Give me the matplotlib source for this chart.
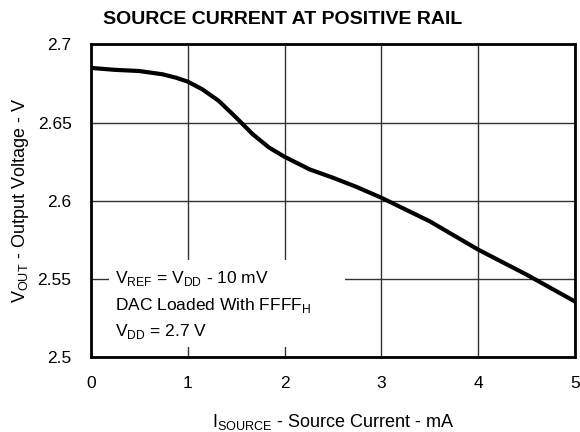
import matplotlib
matplotlib.use("Agg")
import matplotlib.pyplot as plt
from matplotlib.patches import Rectangle

plt.rcParams['font.family'] = ['Liberation Sans', 'DejaVu Sans']

# output voltage vs source current
i_source = [0.0, 0.24, 0.5, 0.74, 0.88, 1.0, 1.15, 1.32, 1.5, 1.67, 1.84,
            2.0, 2.26, 2.5, 2.74, 3.0, 3.5, 4.0, 4.5, 5.0]
v_out = [2.6850, 2.6838, 2.6830, 2.6809, 2.6787, 2.6762, 2.6713, 2.6639,
         2.6532, 2.6426, 2.6340, 2.6281, 2.6200, 2.6147, 2.6089, 2.6019,
         2.5868, 2.5687, 2.5527, 2.5355]

x_ticks = [0, 1, 2, 3, 4, 5]
y_ticks = [2.5, 2.55, 2.6, 2.65, 2.7]
y_labels = ['2.5', '2.55', '2.6', '2.65', '2.7']

fig = plt.figure(figsize=(5.8, 4.32), dpi=100)
ax = fig.add_axes([0.157, 0.174, 0.834, 0.723])

ax.plot(i_source, v_out, color='black', lw=3, solid_joinstyle='round', zorder=4)

ax.set_xlim(0, 5)
ax.set_ylim(2.5, 2.7)
ax.set_xticks(x_ticks)
ax.set_yticks(y_ticks)
ax.set_yticklabels(y_labels)
ax.tick_params(length=0, labelsize=12.5, pad=14)
ax.grid(True, color='#333333', lw=1)
for s in ax.spines.values():
    s.set_linewidth(2)

fig.text(0.488, 0.955, 'SOURCE CURRENT AT POSITIVE RAIL', fontsize=14,
         fontweight='bold', ha='center', va='center')
ax.set_xlabel(r'I$_{\mathregular{SOURCE}}$ - Source Current - mA', fontsize=13, labelpad=15)
ax.set_ylabel(r'V$_{\mathregular{OUT}}$ - Output Voltage - V', fontsize=13, labelpad=5)

# white panel behind the note, hides the grid
ax.add_patch(Rectangle((0.19, 2.5062), 2.44, 0.0561, facecolor='white',
                       edgecolor='none', zorder=2))
note = (r'V$_{\mathregular{REF}}$ = V$_{\mathregular{DD}}$ - 10 mV' '\n'
        r'DAC Loaded With FFFF$_{\mathregular{H}}$' '\n'
        r'V$_{\mathregular{DD}}$ = 2.7 V')
ax.text(0.25, 2.51, note, fontsize=12.5, linespacing=1.55, va='bottom', ha='left',
        zorder=3)

fig.savefig('out.png', dpi=100)
